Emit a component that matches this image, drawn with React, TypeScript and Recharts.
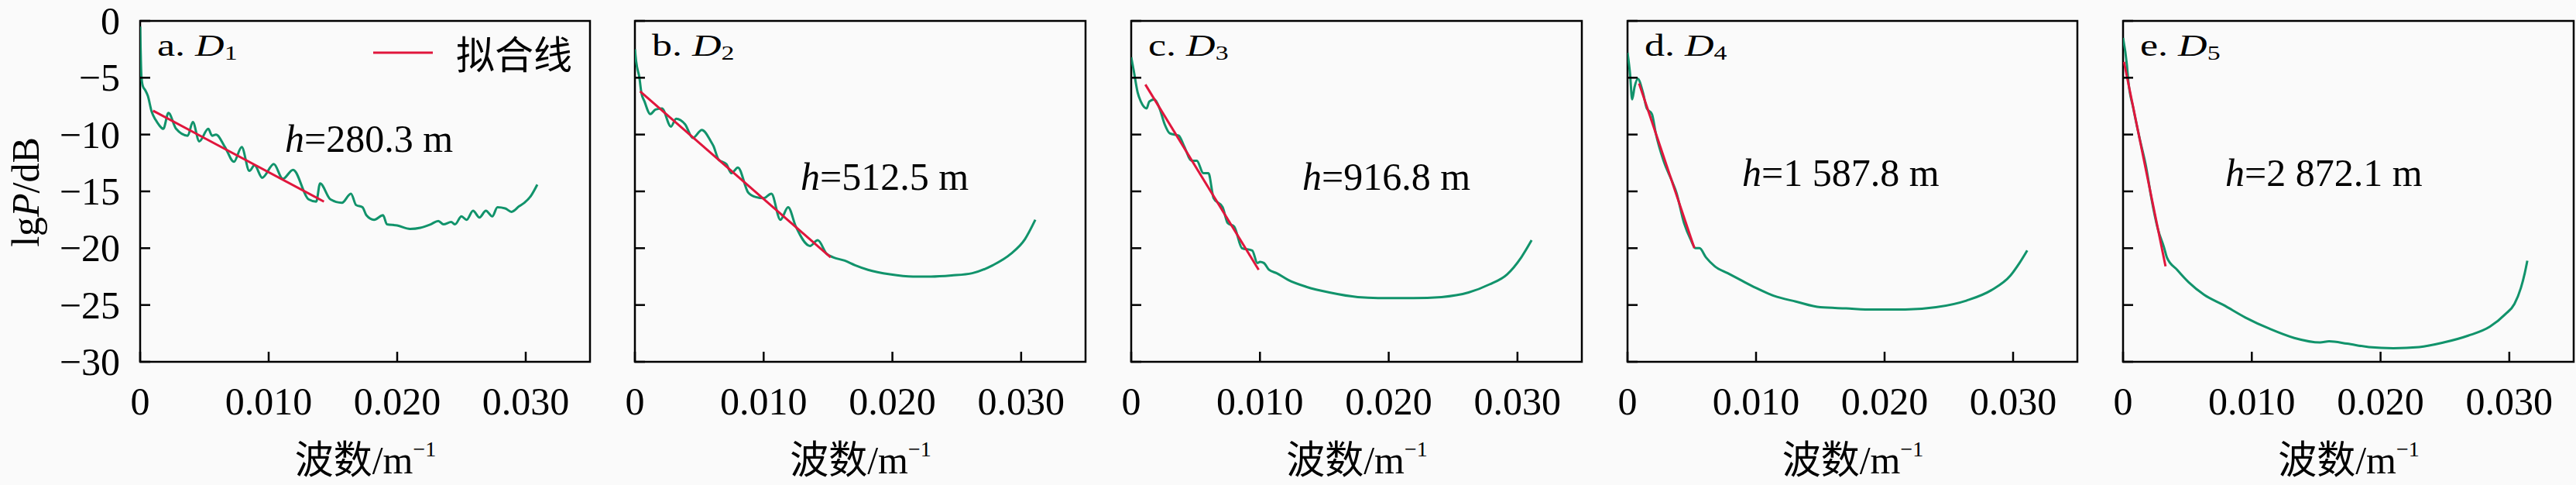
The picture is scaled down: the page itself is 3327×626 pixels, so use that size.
import { LineChart, Line, XAxis, YAxis, ReferenceArea } from "recharts";

const SERIF = '"Liberation Serif", "Times New Roman", serif';
const CJK = '"Noto Sans CJK SC", sans-serif';
const GREEN = "#11936b";
const RED = "#e0163c";

const xTicks = [0, 0.01, 0.02, 0.03];
const xTickLabels = ["0", "0.010", "0.020", "0.030"];
const yTicks = [0, -5, -10, -15, -20, -25, -30];
const yTickLabels = ["0", "−5", "−10", "−15", "−20", "−25", "−30"];

const panelLetters = ["a", "b", "c", "d", "e"];
const panelSubs = ["1", "2", "3", "4", "5"];
const depthLabels = ["280.3", "512.5", "916.8", "1 587.8", "2 872.1"];
const legendLabel = "拟合线";

// D1
const d1Wave = [
  0, 0.0001, 0.0002, 0.0004, 0.0006, 0.0009, 0.0012, 0.0015, 0.0018, 0.0022,
  0.0028, 0.0037, 0.0041, 0.0046, 0.0053, 0.0056, 0.0059, 0.0066, 0.0073,
  0.0079, 0.0085, 0.0089, 0.0095, 0.0104, 0.0111, 0.0119, 0.0131, 0.0137,
  0.014, 0.0148, 0.0157, 0.0164, 0.0168, 0.0173, 0.0176, 0.0182, 0.0189,
  0.0192, 0.02, 0.021, 0.0218, 0.0226, 0.0232, 0.0236, 0.0242, 0.0245, 0.025,
  0.0254, 0.0259, 0.0264, 0.0269, 0.0274, 0.0278, 0.0284, 0.0289, 0.0295,
  0.0299, 0.0304, 0.0309,
];
const d1Power = [
  -0.5, -4.9, -5.7, -6.1, -6.6, -8.0, -8.7, -9.2, -9.5, -8.1, -9.5, -10.1,
  -8.9, -10.6, -9.5, -10.1, -10.0, -11.1, -12.4, -11.1, -13.2, -12.7, -13.8,
  -12.6, -13.9, -13.1, -15.7, -15.9, -14.3, -15.7, -16.0, -15.2, -16.2, -16.4,
  -17.1, -17.5, -17.1, -17.9, -18.0, -18.3, -18.2, -17.9, -17.6, -17.9, -17.7,
  -17.9, -17.2, -17.5, -16.7, -17.3, -16.7, -17.2, -16.4, -16.5, -16.8, -16.3,
  -16.0, -15.4, -14.4,
];
const d1FitWave = [0.001, 0.0143];
const d1FitPower = [-7.9, -15.9];

// D2
const d2Wave = [
  0, 0.0001, 0.00035, 0.0005, 0.00075, 0.0012, 0.0016, 0.0021, 0.0028, 0.0032,
  0.0039, 0.0045, 0.0052, 0.0059, 0.0061, 0.0065, 0.0071, 0.0075, 0.008,
  0.0088, 0.0094, 0.01, 0.0106, 0.0113, 0.0119, 0.0125, 0.0136, 0.0142,
  0.0149, 0.0154, 0.0163, 0.0171, 0.0181, 0.0198, 0.0216, 0.023, 0.0246,
  0.0262, 0.0278, 0.0292, 0.0303, 0.0311,
];
const d2Power = [
  -2.5, -3.6, -5.0, -6.3, -7.1, -8.2, -7.8, -7.7, -9.3, -8.6, -9.1, -10.3,
  -9.6, -10.6, -11.0, -12.2, -12.6, -13.4, -12.9, -15.1, -15.5, -15.6, -15.2,
  -17.5, -16.4, -18.1, -19.8, -19.3, -20.5, -20.8, -21.1, -21.5, -21.9, -22.3,
  -22.5, -22.5, -22.4, -22.2, -21.5, -20.5, -19.2, -17.5,
];
const d2FitWave = [0.0004, 0.0152];
const d2FitPower = [-6.2, -20.8];

// D3
const d3Wave = [
  0, 0.0002, 0.0005, 0.00075, 0.0012, 0.0014, 0.0018, 0.0022, 0.0026, 0.003,
  0.0037, 0.0041, 0.0047, 0.0051, 0.0056, 0.006, 0.0064, 0.0071, 0.0075,
  0.008, 0.0086, 0.0094, 0.0098, 0.01, 0.0103, 0.0107, 0.0113, 0.0122, 0.0136,
  0.0154, 0.0176, 0.0198, 0.0219, 0.0241, 0.0262, 0.0278, 0.0292, 0.0303,
  0.0311,
];
const d3Power = [
  -3.2, -4.4, -6.3, -7.1, -7.7, -7.1, -6.9, -7.7, -9.1, -9.9, -10.1, -11.0,
  -12.3, -12.3, -13.4, -13.4, -15.6, -16.4, -17.8, -18.1, -20.0, -20.2, -21.3,
  -21.2, -21.3, -21.9, -22.2, -22.8, -23.4, -23.9, -24.3, -24.4, -24.4, -24.3,
  -23.9, -23.2, -22.3, -20.8, -19.3,
];
const d3FitWave = [0.0011, 0.0099];
const d3FitPower = [-5.6, -21.9];

// D4
const d4Wave = [
  0, 0.0002, 0.00036, 0.00055, 0.0008, 0.0012, 0.0015, 0.0019, 0.0022, 0.0028,
  0.0035, 0.0038, 0.0044, 0.0049, 0.0053, 0.0056, 0.0061, 0.0068, 0.0078,
  0.0088, 0.01, 0.0114, 0.0131, 0.015, 0.017, 0.0191, 0.0216, 0.024, 0.0264,
  0.0283, 0.0298, 0.0305, 0.0311,
];
const d4Power = [
  -2.8, -4.7, -6.9, -5.8, -5.1, -6.3, -7.7, -8.2, -9.9, -12.3, -14.2, -15.1,
  -17.8, -19.2, -20.0, -20.0, -20.8, -21.6, -22.2, -22.8, -23.5, -24.2, -24.7,
  -25.2, -25.3, -25.4, -25.4, -25.2, -24.6, -23.7, -22.4, -21.3, -20.2,
];
const d4FitWave = [0.0009, 0.0052];
const d4FitPower = [-5.5, -20.0];

// D5
const d5Wave = [
  0, 0.0003, 0.0004, 0.0008, 0.0013, 0.0018, 0.0022, 0.0027, 0.0032, 0.0034,
  0.0042, 0.0051, 0.0063, 0.0078, 0.0095, 0.0114, 0.0133, 0.0153, 0.016,
  0.0174, 0.0191, 0.021, 0.023, 0.0249, 0.0268, 0.0285, 0.0297, 0.0304,
  0.0309, 0.0312, 0.0314,
];
const d5Power = [
  -1.5, -3.9, -5.2, -7.7, -10.4, -12.9, -15.6, -18.3, -20.0, -20.8, -21.9,
  -23.0, -24.1, -25.0, -26.1, -27.1, -27.9, -28.3, -28.2, -28.4, -28.7, -28.8,
  -28.7, -28.3, -27.7, -26.9, -25.8, -24.9, -23.5, -22.2, -21.1,
];
const d5FitWave = [0.00007, 0.0033];
const d5FitPower = [-3.6, -21.6];

const zip = (xs: number[], ys: number[]) => xs.map((x, i) => ({ x, y: ys[i] }));

const series = [
  { spec: zip(d1Wave, d1Power), fit: zip(d1FitWave, d1FitPower) },
  { spec: zip(d2Wave, d2Power), fit: zip(d2FitWave, d2FitPower) },
  { spec: zip(d3Wave, d3Power), fit: zip(d3FitWave, d3FitPower) },
  { spec: zip(d4Wave, d4Power), fit: zip(d4FitWave, d4FitPower) },
  { spec: zip(d5Wave, d5Power), fit: zip(d5FitWave, d5FitPower) },
];

// chart boxes on the page (ml = page distance from chart left to frame)
const layout = [
  { left: 0, width: 800, ml: 182, mr: 38, hx: 186, hy: 196 },
  { left: 781, width: 640, ml: 40, mr: 19, hx: 213, hy: 245 },
  { left: 1422, width: 640, ml: 40, mr: 19, hx: 220, hy: 245 },
  { left: 2063, width: 640, ml: 40, mr: 20, hx: 147, hy: 240 },
  { left: 2703, width: 624, ml: 40, mr: 3, hx: 131, hy: 240 },
];

const H = 626;
const TOP = 27;
const BOTTOM = 466;

const XTick = ({ x, payload }: any) => (
  <text x={x} y={535} textAnchor="middle" fontFamily={SERIF} fontSize={50} fill="#000">
    {xTickLabels[xTicks.indexOf(payload.value)]}
  </text>
);

const makeYTick = (labelX: number, show: boolean) => ({ y, payload }: any) =>
  show ? (
    <text x={labelX} y={y} dy={17} textAnchor="end" fontFamily={SERIF} fontSize={50} fill="#000">
      {yTickLabels[yTicks.indexOf(payload.value)]}
    </text>
  ) : (
    <g />
  );

const Panel = ({ i }: { i: number }) => {
  const L = layout[i];
  const plotW = L.width - L.ml - L.mr;
  const { spec, fit } = series[i];
  return (
    <div style={{ position: "absolute", left: L.left, top: 0 }}>
      <LineChart
        width={L.width}
        height={H}
        margin={{ top: TOP, bottom: H - BOTTOM - 1, left: L.ml - 1, right: L.mr }}
      >
        <XAxis
          dataKey="x"
          type="number"
          domain={[0, 0.035]}
          ticks={xTicks}
          height={1}
          mirror
          tickSize={13}
          tickMargin={0}
          axisLine={false}
          tickLine={{ stroke: "#000", strokeWidth: 2.5 }}
          tick={XTick}
          interval={0}
          allowDataOverflow
        />
        <YAxis
          type="number"
          domain={[-30, 0]}
          ticks={yTicks}
          width={1}
          mirror
          tickSize={13}
          tickMargin={0}
          axisLine={false}
          tickLine={{ stroke: "#000", strokeWidth: 2.5 }}
          tick={makeYTick(L.ml - 27, i === 0)}
          interval={0}
          allowDataOverflow
        />
        <ReferenceArea
          x1={0}
          x2={0.035}
          y1={-30}
          y2={0}
          fill="none"
          stroke="#000"
          strokeWidth={2.5}
        />
        <Line
          data={spec}
          dataKey="y"
          type="monotone"
          stroke={GREEN}
          strokeWidth={3}
          dot={false}
          isAnimationActive={false}
        />
        <Line
          data={fit}
          dataKey="y"
          type="linear"
          stroke={RED}
          strokeWidth={3}
          dot={false}
          isAnimationActive={false}
        />
        <g transform={`translate(${L.ml + 21},72) scale(1.3,1)`}>
          <text x={0} y={0} fontFamily={SERIF} fontSize={40} fill="#000">
            {panelLetters[i]}.{" "}
            <tspan fontStyle="italic">D</tspan>
            <tspan fontSize={26} dy={5}>
              {panelSubs[i]}
            </tspan>
          </text>
        </g>
        <text x={L.ml + L.hx} y={L.hy} fontFamily={SERIF} fontSize={50} fill="#000">
          <tspan fontStyle="italic">h</tspan>={depthLabels[i]} m
        </text>
        <text x={L.ml + plotW / 2} y={611} textAnchor="middle" fontSize={50} fill="#000">
          <tspan fontFamily={CJK}>波数</tspan>
          <tspan fontFamily={SERIF}>/m</tspan>
          <tspan fontFamily={SERIF} fontSize={28} dy={-22}>
            −1
          </tspan>
        </text>
        {i === 0 && (
          <g>
            <line x1={482} x2={559} y1={68} y2={68} stroke={RED} strokeWidth={3} />
            <text x={589} y={89} fontFamily={CJK} fontSize={50} fill="#000">
              {legendLabel}
            </text>
            <text
              transform="translate(50,248) rotate(-90)"
              textAnchor="middle"
              fontFamily={SERIF}
              fontSize={50}
              fill="#000"
            >
              lg<tspan fontStyle="italic">P</tspan>/dB
            </text>
          </g>
        )}
      </LineChart>
    </div>
  );
};

export default function App() {
  return (
    <div
      style={{
        position: "absolute",
        left: 0,
        top: 0,
        width: 3327,
        height: H,
        background: "#fafafa",
        overflow: "hidden",
      }}
    >
      {[0, 1, 2, 3, 4].map((i) => (
        <Panel key={i} i={i} />
      ))}
    </div>
  );
}
